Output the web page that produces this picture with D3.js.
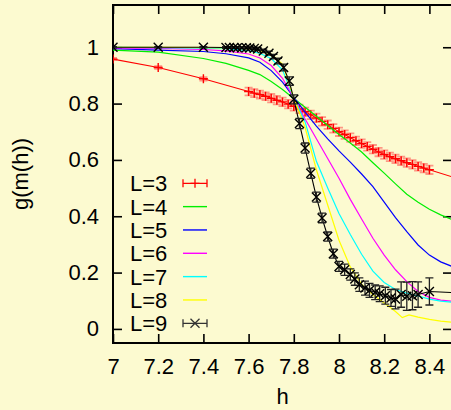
<!DOCTYPE html>
<html><head><meta charset="utf-8">
<script src="https://cdn.jsdelivr.net/npm/d3@7"></script>
<style>html,body{margin:0;padding:0;background:#fcfad0;} svg{display:block;}</style>
</head><body><svg id="c" width="451" height="410"></svg>
<script>
// ---------- data ----------
const xTicks = [7, 7.2, 7.4, 7.6, 7.8, 8, 8.2, 8.4];
const yTicks = [0, 0.2, 0.4, 0.6, 0.8, 1];
const xLabel = "h";
const yLabel = "g(m(h))";
const seriesNames = ["L=3", "L=4", "L=5", "L=6", "L=7", "L=8", "L=9"];

// L=3 (points with error bars)
const hL3 = [7.0, 7.2, 7.4, 7.6, 7.625, 7.65, 7.675, 7.7, 7.725, 7.75, 7.775, 7.8, 7.825, 7.85, 7.875, 7.9, 7.925, 7.95, 7.975, 8.0, 8.025, 8.05, 8.075, 8.1, 8.125, 8.15, 8.175, 8.2, 8.225, 8.25, 8.275, 8.3, 8.325, 8.35, 8.375, 8.4, 8.6];
const gL3 = [0.958, 0.928, 0.888, 0.843, 0.837, 0.832, 0.826, 0.819, 0.812, 0.806, 0.798, 0.790, 0.781, 0.771, 0.760, 0.749, 0.737, 0.725, 0.712, 0.700, 0.690, 0.679, 0.668, 0.658, 0.648, 0.638, 0.628, 0.619, 0.611, 0.604, 0.597, 0.590, 0.584, 0.577, 0.571, 0.565, 0.515];
const eL3 = [0.004, 0.005, 0.006, 0.014, 0.014, 0.014, 0.014, 0.015, 0.015, 0.015, 0.015, 0.015, 0.015, 0.015, 0.015, 0.015, 0.015, 0.015, 0.015, 0.015, 0.015, 0.015, 0.015, 0.015, 0.015, 0.015, 0.015, 0.015, 0.015, 0.015, 0.015, 0.015, 0.015, 0.015, 0.015, 0.015, 0.015];

// L=4 .. L=7 (lines)
const hGrid = [7.0, 7.2, 7.4, 7.5, 7.6, 7.65, 7.7, 7.75, 7.8, 7.85, 7.9, 7.95, 8.0, 8.05, 8.1, 8.15, 8.2, 8.25, 8.3, 8.35, 8.4, 8.45, 8.5];
const gL4 = [0.99, 0.983, 0.96, 0.943, 0.918, 0.903, 0.878, 0.85, 0.818, 0.787, 0.755, 0.722, 0.69, 0.66, 0.628, 0.59, 0.553, 0.515, 0.478, 0.45, 0.425, 0.405, 0.388];
const gL5 = [0.995, 0.99, 0.985, 0.977, 0.962, 0.947, 0.917, 0.876, 0.822, 0.77, 0.72, 0.675, 0.632, 0.592, 0.55, 0.505, 0.45, 0.395, 0.345, 0.298, 0.262, 0.238, 0.222];
const gL6 = [0.998, 0.996, 0.992, 0.987, 0.976, 0.962, 0.935, 0.89, 0.82, 0.745, 0.675, 0.605, 0.535, 0.46, 0.39, 0.322, 0.262, 0.21, 0.168, 0.133, 0.112, 0.102, 0.098];
const gL7 = [1.0, 0.999, 0.997, 0.995, 0.988, 0.978, 0.96, 0.92, 0.82, 0.735, 0.595, 0.5, 0.41, 0.335, 0.265, 0.205, 0.165, 0.14, 0.127, 0.117, 0.106, 0.099, 0.095];
// L=8
const hL8 = [7.0, 7.2, 7.4, 7.5, 7.6, 7.65, 7.7, 7.75, 7.8, 7.85, 7.9, 7.95, 8.0, 8.05, 8.1, 8.15, 8.2, 8.25, 8.28, 8.31, 8.35, 8.4, 8.45, 8.5];
const gL8 = [1.0, 1.0, 0.999, 0.998, 0.994, 0.988, 0.975, 0.94, 0.82, 0.715, 0.565, 0.44, 0.315, 0.22, 0.158, 0.122, 0.092, 0.062, 0.04, 0.05, 0.042, 0.034, 0.028, 0.024];

// L=9 (points with error bars)
const hL9 = [7.0, 7.2, 7.4, 7.5, 7.515, 7.535, 7.55, 7.57, 7.59, 7.605, 7.625, 7.64, 7.665, 7.69, 7.71, 7.73, 7.755, 7.78, 7.8, 7.825, 7.85, 7.875, 7.9, 7.925, 7.95, 7.975, 8.0, 8.025, 8.05, 8.07, 8.09, 8.115, 8.135, 8.16, 8.18, 8.205, 8.23, 8.25, 8.275, 8.3, 8.325, 8.35, 8.4, 8.6];
const gL9 = [1.0, 1.0, 1.0, 0.999, 0.999, 0.999, 0.998, 0.998, 0.998, 0.997, 0.996, 0.994, 0.987, 0.979, 0.967, 0.951, 0.928, 0.88, 0.815, 0.729, 0.642, 0.553, 0.468, 0.394, 0.328, 0.267, 0.222, 0.21, 0.193, 0.177, 0.157, 0.145, 0.137, 0.13, 0.125, 0.118, 0.11, 0.106, 0.122, 0.116, 0.118, 0.122, 0.133, 0.125];
const eL9 = [0.002, 0.002, 0.002, 0.003, 0.003, 0.003, 0.003, 0.003, 0.003, 0.003, 0.004, 0.005, 0.006, 0.007, 0.008, 0.01, 0.012, 0.015, 0.016, 0.018, 0.018, 0.018, 0.018, 0.017, 0.016, 0.016, 0.018, 0.02, 0.02, 0.022, 0.024, 0.025, 0.025, 0.026, 0.028, 0.03, 0.03, 0.035, 0.045, 0.05, 0.05, 0.045, 0.048, 0.045];

const colors = ["#ff0000", "#00ee00", "#0000ff", "#ff00ff", "#00ffff", "#ffff00", "#000000"];

// ---------- drawing ----------
const W = 451, H = 410;
const L = 113, R = 452, T = 5, B = 343;
const FONT = "'Liberation Sans', Arial, Helvetica, sans-serif";
const FS = 22;
const svg = d3.select("#c");
svg.append("rect").attr("width", W).attr("height", H).attr("fill", "#fcfad0");

const x = d3.scaleLinear().domain([7, 8.5]).range([L, R]);
const y = d3.scaleLinear().domain([-0.05, 1.15]).range([B, T]);

svg.append("clipPath").attr("id", "clip").append("rect")
  .attr("x", L).attr("y", T).attr("width", R - L).attr("height", B - T);

const fmt = d => String(d);
function styleAxis(g) {
  g.select(".domain").remove();
  g.selectAll(".tick line").attr("stroke", "#000").attr("stroke-width", 1.6);
  g.selectAll("text").attr("font-family", FONT).attr("font-size", FS).attr("fill", "#000");
}
svg.append("g").attr("transform", `translate(0,${B})`)
  .call(d3.axisBottom(x).tickValues(xTicks).tickFormat(fmt).tickSizeInner(-9).tickSizeOuter(0).tickPadding(15))
  .call(styleAxis);
svg.append("g").attr("transform", `translate(0,${T})`)
  .call(d3.axisTop(x).tickValues(xTicks).tickFormat("").tickSizeInner(-9).tickSizeOuter(0))
  .call(styleAxis);
svg.append("g").attr("transform", `translate(${L},0)`)
  .call(d3.axisLeft(y).tickValues(yTicks).tickFormat(fmt).tickSizeInner(-9).tickSizeOuter(0).tickPadding(14))
  .call(styleAxis);
svg.append("g").attr("transform", `translate(${R},0)`)
  .call(d3.axisRight(y).tickValues(yTicks).tickFormat("").tickSizeInner(-9).tickSizeOuter(0))
  .call(styleAxis);

svg.append("rect").attr("x", L).attr("y", T).attr("width", R - L).attr("height", B - T)
  .attr("fill", "none").attr("stroke", "#000").attr("stroke-width", 2);

svg.append("text").attr("x", (L + R) / 2).attr("y", 404).attr("text-anchor", "middle")
  .attr("font-family", FONT).attr("font-size", FS).text(xLabel);
svg.append("text").attr("transform", `translate(28,${(T + B) / 2}) rotate(-90)`).attr("text-anchor", "middle")
  .attr("font-family", FONT).attr("font-size", FS).text(yLabel);

const plot = svg.append("g").attr("clip-path", "url(#clip)");
const line = d3.line().x(d => x(d[0])).y(d => y(d[1]));
const zip = (h, g, e) => h.map((v, i) => [v, g[i], e ? e[i] : 0]);

const plusPath = (cx, cy, s) => `M${cx - s},${cy}H${cx + s}M${cx},${cy - s}V${cy + s}`;
const crossPath = (cx, cy, s) => `M${cx - s},${cy - s}L${cx + s},${cy + s}M${cx - s},${cy + s}L${cx + s},${cy - s}`;
const errPath = (cx, y1, y2, c) => `M${cx},${y1}V${y2}M${cx - c},${y1}H${cx + c}M${cx - c},${y2}H${cx + c}`;

function drawErrSeries(data, color, errColor, errW, marker) {
  plot.append("path").datum(data).attr("d", line).attr("fill", "none")
    .attr("stroke", color).attr("stroke-width", 1.1);
  const vis = data.filter(d => d[0] >= 7 && d[0] <= 8.5);
  plot.append("g").selectAll("path").data(vis).join("path")
    .attr("d", d => errPath(x(d[0]), y(d[1] - d[2]), y(d[1] + d[2]), 4))
    .attr("fill", "none").attr("stroke", errColor).attr("stroke-width", errW);
  plot.append("g").selectAll("path").data(vis).join("path")
    .attr("d", d => marker(x(d[0]), y(d[1]), 4.5))
    .attr("fill", "none").attr("stroke", color).attr("stroke-width", 1.4);
}

const lineSeries = [[hGrid, gL4], [hGrid, gL5], [hGrid, gL6], [hGrid, gL7], [hL8, gL8]];

drawErrSeries(zip(hL3, gL3, eL3), colors[0], "rgba(255,70,70,0.55)", 1.8, plusPath);
lineSeries.forEach((s, i) => {
  plot.append("path").datum(zip(s[0], s[1])).attr("d", line).attr("fill", "none")
    .attr("stroke", colors[i + 1]).attr("stroke-width", 1.2);
});
drawErrSeries(zip(hL9, gL9, eL9), colors[6], "#222", 1.3, crossPath);

// legend
const lg = svg.append("g");
seriesNames.forEach((name, i) => {
  const cy = 183.3 + i * 23.33;
  lg.append("text").attr("x", 130).attr("y", cy + 8).attr("font-family", FONT)
    .attr("font-size", FS).attr("fill", "#000").text(name);
  const x1 = 183, x2 = 207, xm = 195;
  if (i === 0 || i === 6) {
    const c = i === 0 ? colors[0] : "#333";
    lg.append("path").attr("d", `M${x1},${cy}H${x2}M${x1},${cy - 4}V${cy + 4}M${x2},${cy - 4}V${cy + 4}`)
      .attr("stroke", c).attr("stroke-width", 1.3).attr("fill", "none");
    lg.append("path").attr("d", i === 0 ? plusPath(xm, cy, 4.5) : crossPath(xm, cy, 4.5))
      .attr("stroke", c).attr("stroke-width", 1.3).attr("fill", "none");
  } else {
    lg.append("line").attr("x1", x1).attr("x2", x2).attr("y1", cy).attr("y2", cy)
      .attr("stroke", colors[i]).attr("stroke-width", 1.4);
  }
});
</script></body></html>
